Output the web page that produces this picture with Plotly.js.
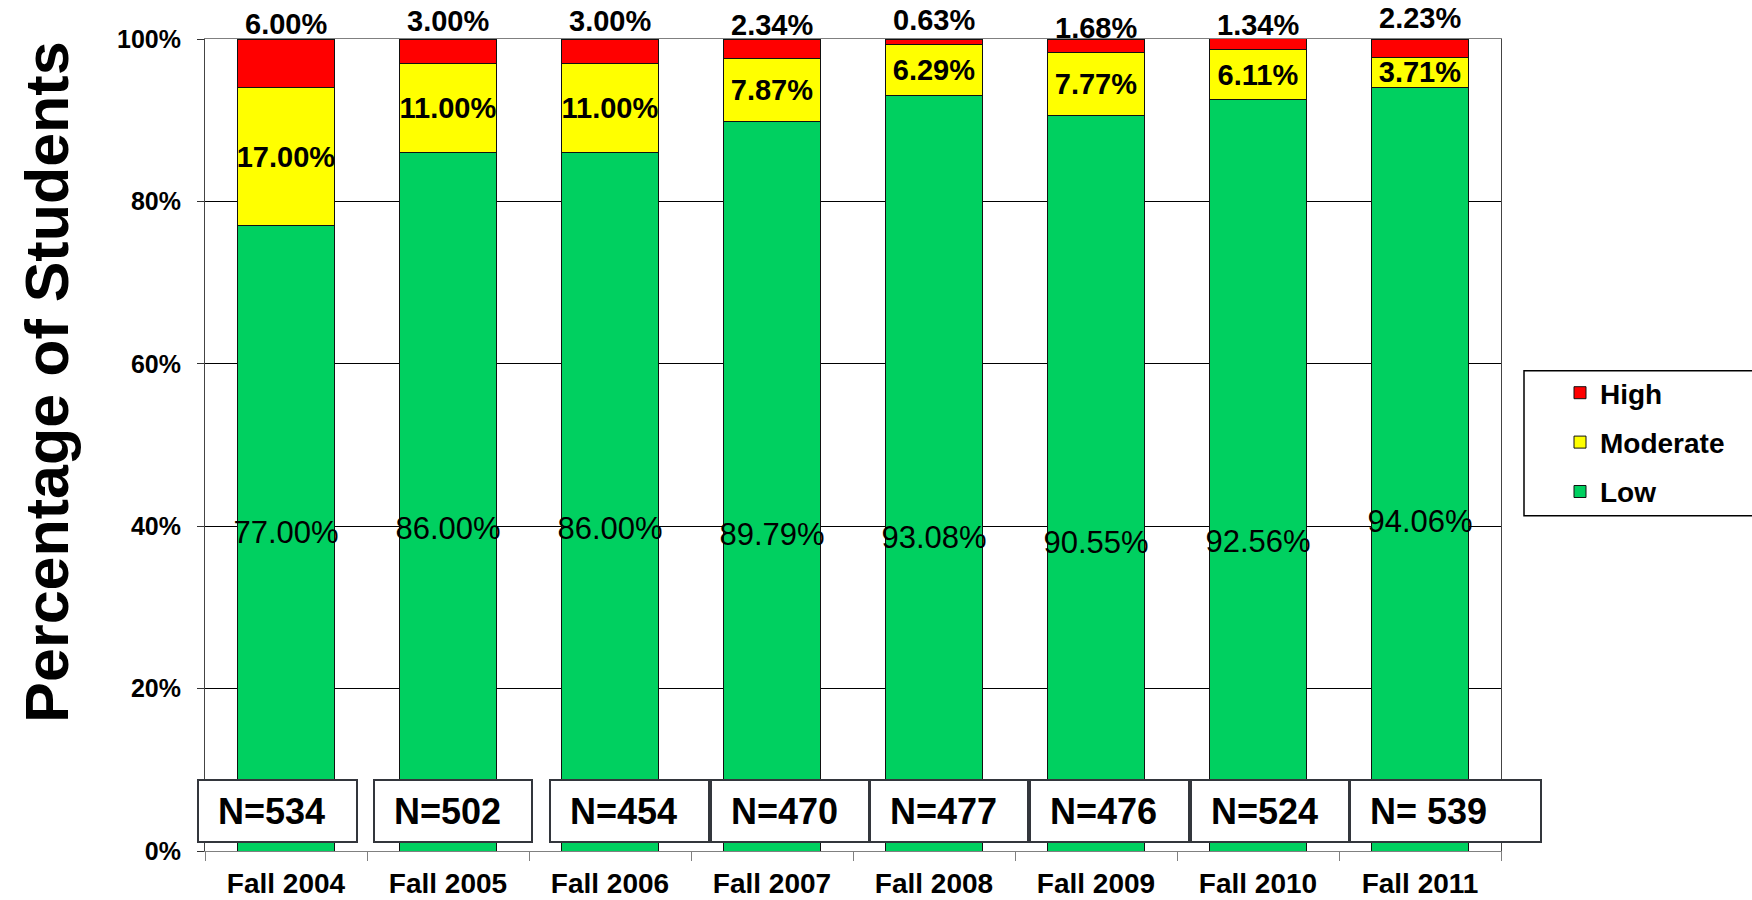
<!DOCTYPE html>
<html>
<head>
<meta charset="utf-8">
<script src="https://cdn.plot.ly/plotly-3.0.1.min.js"></script>
<style>
  html, body { margin: 0; padding: 0; background: #ffffff; }
  #chart { width: 1752px; height: 900px; }
</style>
</head>
<body>
<div id="chart"></div>
<script>
// ---------- data ----------
const categories = ['Fall 2004', 'Fall 2005', 'Fall 2006', 'Fall 2007', 'Fall 2008', 'Fall 2009', 'Fall 2010', 'Fall 2011'];
const lowValues = [77.00, 86.00, 86.00, 89.79, 93.08, 90.55, 92.56, 94.06];
const moderateValues = [17.00, 11.00, 11.00, 7.87, 6.29, 7.77, 6.11, 3.71];
const highValues = [6.00, 3.00, 3.00, 2.34, 0.63, 1.68, 1.34, 2.23];
const sampleSizes = ['N=534', 'N=502', 'N=454', 'N=470', 'N=477', 'N=476', 'N=524', 'N= 539'];
const yTickValues = [0, 20, 40, 60, 80, 100];
const yTickLabels = ['0%', '20%', '40%', '60%', '80%', '100%'];

// ---------- layout / style ----------
const FONT = 'Liberation Sans, Arial, Helvetica, sans-serif';
const colors = { Low: '#00D060', Moderate: '#FFFF00', High: '#FF0000' };
const W = 1752, H = 900;
const M = { l: 205, r: 251, t: 39, b: 49 };
const plotW = W - M.l - M.r, plotH = H - M.t - M.b;
const Y_RANGE = [0, 100];
const px2x = p => (p - M.l) / plotW;
const px2y = p => (H - M.b - p) / plotH;
const val2paperY = v => (v - Y_RANGE[0]) / (Y_RANGE[1] - Y_RANGE[0]);

// where the percentage labels sit (as placed in the original chart)
const lowLabelPos = [38.9, 39.4, 39.4, 38.7, 38.3, 37.6, 37.8, 40.2];
const highLabelPos = [101.8, 102.2, 102.2, 101.7, 102.4, 101.4, 101.7, 102.6];
// N-box edges in pixels
const nBoxLeft = [196.7, 372.7, 549, 709.5, 869, 1029, 1189.5, 1349];
const nBoxRight = [357.3, 532.7, 709.5, 869, 1029, 1189.5, 1349, 1541.7];

const pct = v => v.toFixed(2) + '%';
const lineStyle = { color: '#111111', width: 1 };

const traces = [
  {
    type: 'bar', name: 'Low', x: categories, y: lowValues,
    marker: { color: colors.Low, line: lineStyle },
    legendgroup: 'low', legendrank: 3, hoverinfo: 'x+y+name'
  },
  {
    type: 'bar', name: 'Moderate', x: categories, y: moderateValues,
    marker: { color: colors.Moderate, line: lineStyle },
    text: moderateValues.map(pct), textposition: 'inside', insidetextanchor: 'middle',
    textangle: 0, constraintext: 'none',
    insidetextfont: { family: FONT, size: 29, color: '#000000', weight: 'bold' },
    legendgroup: 'mod', legendrank: 2, hoverinfo: 'x+y+name'
  },
  {
    type: 'bar', name: 'High', x: categories, y: highValues,
    marker: { color: colors.High, line: lineStyle },
    legendgroup: 'high', legendrank: 1, hoverinfo: 'x+y+name'
  },
  {
    type: 'scatter', mode: 'text', x: categories, y: lowLabelPos,
    text: lowValues.map(pct), textposition: 'middle center',
    textfont: { family: FONT, size: 31, color: '#000000' },
    cliponaxis: false, showlegend: false, hoverinfo: 'skip'
  }
];

const annotations = [];
// y-axis title
annotations.push({
  xref: 'paper', yref: 'paper', x: px2x(47), y: px2y(382.7),
  xanchor: 'center', yanchor: 'middle', textangle: -90, showarrow: false,
  text: 'Percentage of Students',
  font: { family: FONT, size: 61, color: '#000000', weight: 'bold' }
});
// High labels above the bars
categories.forEach((c, i) => {
  annotations.push({
    xref: 'x', yref: 'paper', x: c, y: val2paperY(highLabelPos[i]),
    xanchor: 'center', yanchor: 'middle', showarrow: false,
    text: pct(highValues[i]),
    font: { family: FONT, size: 29, color: '#000000', weight: 'bold' }
  });
});
// N boxes
categories.forEach((c, i) => {
  const left = nBoxLeft[i], right = nBoxRight[i];
  annotations.push({
    xref: 'paper', yref: 'paper', x: px2x(left), y: px2y(779),
    xanchor: 'left', yanchor: 'top', showarrow: false,
    text: ' ', width: right - left - 4, height: 64 - 4,
    borderwidth: 2, bordercolor: '#33363C', borderpad: 0, bgcolor: '#FFFFFF',
    font: { family: FONT, size: 10 }
  });
});
categories.forEach((c, i) => {
  annotations.push({
    xref: 'paper', yref: 'paper', x: px2x(nBoxLeft[i]), y: px2y(811),
    xanchor: 'left', yanchor: 'middle', xshift: 19, showarrow: false,
    text: sampleSizes[i],
    font: { family: FONT, size: 36, color: '#000000', weight: 'bold' }
  });
});

const layout = {
  width: W, height: H,
  margin: M,
  paper_bgcolor: '#FFFFFF', plot_bgcolor: '#FFFFFF',
  barmode: 'stack', bargap: 0.4,
  showlegend: true,
  font: { family: FONT, color: '#000000' },
  xaxis: {
    type: 'category', tickson: 'boundaries', ticks: 'outside', ticklen: 9,
    tickcolor: '#808080', tickwidth: 1,
    showline: true, linecolor: '#808080', linewidth: 1, mirror: true,
    showgrid: false, ticklabelstandoff: 7,
    tickfont: { family: FONT, size: 28, color: '#000000', weight: 'bold' },
    fixedrange: true
  },
  yaxis: {
    range: Y_RANGE, tickmode: 'array', tickvals: yTickValues, ticktext: yTickLabels,
    ticks: 'outside', ticklen: 7, tickcolor: '#333333',
    showline: true, linecolor: '#444444', linewidth: 1, mirror: true,
    showgrid: true, gridcolor: '#000000', gridwidth: 1, zeroline: false,
    ticklabelstandoff: 11,
    tickfont: { family: FONT, size: 25, color: '#000000', weight: 'bold' },
    fixedrange: true
  },
  legend: {
    x: px2x(1560), y: px2y(368), xanchor: 'left', yanchor: 'top',
    traceorder: 'grouped', tracegroupgap: 10,
    bgcolor: 'rgba(0,0,0,0)', borderwidth: 0,
    font: { family: FONT, size: 28, color: '#000000', weight: 'bold' }
  },
  shapes: [{
    type: 'rect', xref: 'paper', yref: 'paper',
    x0: px2x(1524), x1: px2x(1760), y0: px2y(515.7), y1: px2y(370.7),
    line: { color: '#000000', width: 1.5 }, fillcolor: 'rgba(0,0,0,0)', layer: 'below'
  }],
  annotations: annotations
};

Plotly.newPlot('chart', traces, layout, { displayModeBar: false, staticPlot: true });
</script>
</body>
</html>
